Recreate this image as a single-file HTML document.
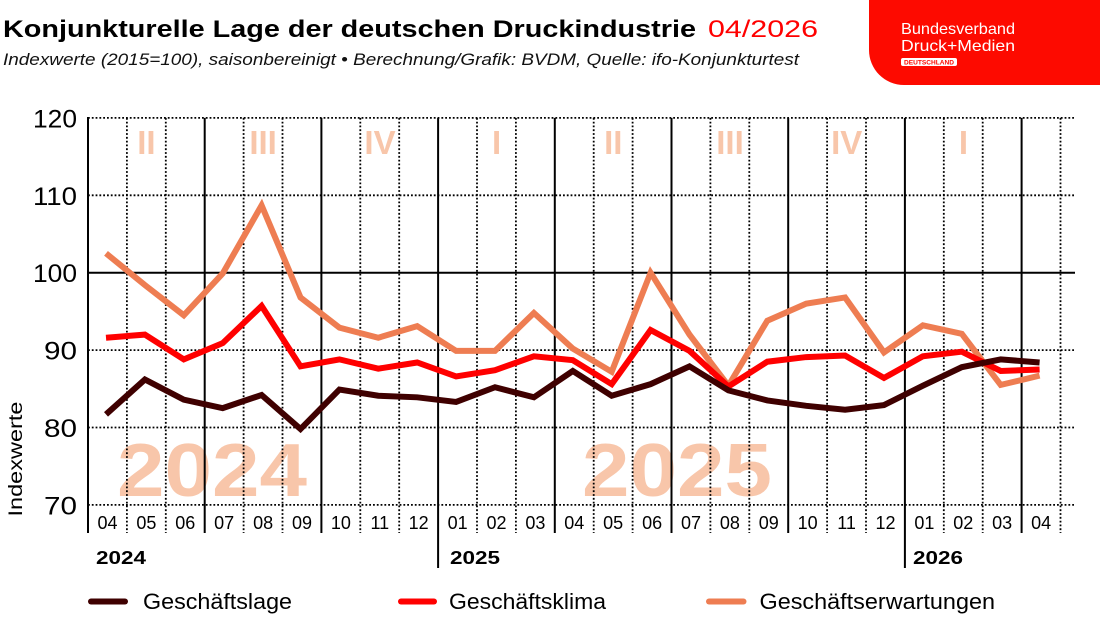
<!DOCTYPE html>
<html>
<head>
<meta charset="utf-8">
<style>
html,body{margin:0;padding:0;background:#fff;}
svg{display:block;}
text{font-family:"Liberation Sans",sans-serif;}
</style>
</head>
<body>
<svg width="1100" height="619" viewBox="0 0 1100 619" xmlns="http://www.w3.org/2000/svg">
  <rect x="0" y="0" width="1100" height="619" fill="#fff"/>

  <!-- Title -->
  <text x="3" y="37" font-size="24" font-weight="bold" fill="#000" textLength="693" lengthAdjust="spacingAndGlyphs">Konjunkturelle Lage der deutschen Druckindustrie</text>
  <text x="708" y="37" font-size="24" fill="#ff0000" textLength="110" lengthAdjust="spacingAndGlyphs">04/2026</text>
  <text x="3" y="65" font-size="17" font-style="italic" fill="#111" textLength="796" lengthAdjust="spacingAndGlyphs">Indexwerte (2015=100), saisonbereinigt • Berechnung/Grafik: BVDM, Quelle: ifo-Konjunkturtest</text>

  <!-- Logo -->
  <path d="M869 0 H1100 V85 H904 A35 35 0 0 1 869 50 Z" fill="#fd0a00"/>
  <text x="901" y="34" font-size="16" fill="#fff" textLength="114" lengthAdjust="spacingAndGlyphs">Bundesverband</text>
  <text x="901" y="51" font-size="16" fill="#fff" textLength="114" lengthAdjust="spacingAndGlyphs">Druck+Medien</text>
  <rect x="901" y="58" width="56" height="8" rx="2" fill="#fff"/>
  <text x="929" y="64.5" font-size="6.5" font-weight="bold" fill="#fd0a00" text-anchor="middle" textLength="50" lengthAdjust="spacingAndGlyphs">DEUTSCHLAND</text>

  <!-- Watermarks -->
  <g fill="#f8c6aa" font-weight="bold">
    <text x="212" y="496" font-size="75" text-anchor="middle" textLength="190" lengthAdjust="spacingAndGlyphs">2024</text>
    <text x="677" y="496" font-size="75" text-anchor="middle" textLength="190" lengthAdjust="spacingAndGlyphs">2025</text>
  </g>
  <g fill="#f8c6aa" font-weight="bold" font-size="33" text-anchor="middle">
    <text x="146.4" y="154">II</text>
    <text x="263.1" y="154">III</text>
    <text x="380" y="154">IV</text>
    <text x="496.6" y="154">I</text>
    <text x="613.3" y="154">II</text>
    <text x="730" y="154">III</text>
    <text x="846.7" y="154">IV</text>
    <text x="963.4" y="154">I</text>
  </g>

  <!-- Horizontal grid -->
  <g stroke="#000" stroke-width="1.8" stroke-dasharray="1.8,2">
    <line x1="88" y1="117.9" x2="1075" y2="117.9"/>
    <line x1="88" y1="195.3" x2="1075" y2="195.3"/>
    <line x1="88" y1="350.1" x2="1075" y2="350.1"/>
    <line x1="88" y1="427.5" x2="1075" y2="427.5"/>
    <line x1="88" y1="504.9" x2="1075" y2="504.9"/>
  </g>
  <line x1="88" y1="272.7" x2="1075" y2="272.7" stroke="#000" stroke-width="2"/>

  <!-- Vertical dotted (month) lines -->
  <g stroke="#000" stroke-width="1.8" stroke-dasharray="1.8,2">
    <line x1="126.9" y1="117.9" x2="126.9" y2="533"/>
    <line x1="165.8" y1="117.9" x2="165.8" y2="533"/>
    <line x1="243.6" y1="117.9" x2="243.6" y2="533"/>
    <line x1="282.5" y1="117.9" x2="282.5" y2="533"/>
    <line x1="360.3" y1="117.9" x2="360.3" y2="533"/>
    <line x1="399.2" y1="117.9" x2="399.2" y2="533"/>
    <line x1="477" y1="117.9" x2="477" y2="533"/>
    <line x1="515.9" y1="117.9" x2="515.9" y2="533"/>
    <line x1="593.7" y1="117.9" x2="593.7" y2="533"/>
    <line x1="632.6" y1="117.9" x2="632.6" y2="533"/>
    <line x1="710.4" y1="117.9" x2="710.4" y2="533"/>
    <line x1="749.3" y1="117.9" x2="749.3" y2="533"/>
    <line x1="827.1" y1="117.9" x2="827.1" y2="533"/>
    <line x1="866" y1="117.9" x2="866" y2="533"/>
    <line x1="943.8" y1="117.9" x2="943.8" y2="533"/>
    <line x1="982.7" y1="117.9" x2="982.7" y2="533"/>
    <line x1="1060.5" y1="117.9" x2="1060.5" y2="533"/>
  </g>
  <!-- Quarter solid lines -->
  <g stroke="#000" stroke-width="2">
    <line x1="88" y1="117" x2="88" y2="533"/>
    <line x1="204.7" y1="117.9" x2="204.7" y2="533"/>
    <line x1="321.4" y1="117.9" x2="321.4" y2="533"/>
    <line x1="438.1" y1="117.9" x2="438.1" y2="568"/>
    <line x1="554.8" y1="117.9" x2="554.8" y2="533"/>
    <line x1="671.5" y1="117.9" x2="671.5" y2="533"/>
    <line x1="788.2" y1="117.9" x2="788.2" y2="533"/>
    <line x1="904.9" y1="117.9" x2="904.9" y2="568"/>
    <line x1="1021.6" y1="117.9" x2="1021.6" y2="533"/>
  </g>

  <!-- Y tick labels -->
  <g font-size="25" fill="#000" text-anchor="end">
    <text x="77" y="127.4" textLength="44" lengthAdjust="spacingAndGlyphs">120</text>
    <text x="77" y="204.8" textLength="44" lengthAdjust="spacingAndGlyphs">110</text>
    <text x="77" y="282.2" textLength="44" lengthAdjust="spacingAndGlyphs">100</text>
    <text x="77" y="359.6" textLength="33" lengthAdjust="spacingAndGlyphs">90</text>
    <text x="77" y="437" textLength="33" lengthAdjust="spacingAndGlyphs">80</text>
    <text x="77" y="514.4" textLength="33" lengthAdjust="spacingAndGlyphs">70</text>
  </g>
  <text transform="translate(22,459) rotate(-90)" font-size="19" fill="#000" text-anchor="middle" textLength="115" lengthAdjust="spacingAndGlyphs">Indexwerte</text>

  <!-- Month labels -->
  <g font-size="18" fill="#000" text-anchor="middle">
    <text x="107.5" y="529">04</text>
    <text x="146.4" y="529">05</text>
    <text x="185.3" y="529">06</text>
    <text x="224.2" y="529">07</text>
    <text x="263.1" y="529">08</text>
    <text x="302" y="529">09</text>
    <text x="340.9" y="529">10</text>
    <text x="379.8" y="529">11</text>
    <text x="418.7" y="529">12</text>
    <text x="457.6" y="529">01</text>
    <text x="496.5" y="529">02</text>
    <text x="535.4" y="529">03</text>
    <text x="574.3" y="529">04</text>
    <text x="613.2" y="529">05</text>
    <text x="652.1" y="529">06</text>
    <text x="691" y="529">07</text>
    <text x="729.9" y="529">08</text>
    <text x="768.8" y="529">09</text>
    <text x="807.7" y="529">10</text>
    <text x="846.6" y="529">11</text>
    <text x="885.5" y="529">12</text>
    <text x="924.4" y="529">01</text>
    <text x="963.3" y="529">02</text>
    <text x="1002.2" y="529">03</text>
    <text x="1041.1" y="529">04</text>
  </g>

  <!-- Year labels -->
  <g font-size="18" font-weight="bold" fill="#000">
    <text x="96" y="564" textLength="50" lengthAdjust="spacingAndGlyphs">2024</text>
    <text x="450" y="564" textLength="50" lengthAdjust="spacingAndGlyphs">2025</text>
    <text x="913" y="564" textLength="50" lengthAdjust="spacingAndGlyphs">2026</text>
  </g>

  <!-- Series -->
  <g fill="none" stroke-width="6" stroke-linejoin="miter" stroke-miterlimit="3" stroke-linecap="butt">
    <polyline stroke="#ee7d52" points="106,253.35 144.9,285.08 183.8,315.27 222.7,273.47 261.6,205.36 300.5,297.47 339.4,327.65 378.3,337.72 417.2,326.11 456.1,350.87 495,350.87 533.9,312.95 572.8,348.55 611.7,371.77 650.6,272.7 689.5,334.62 728.4,385.7 767.3,320.69 806.2,303.66 845.1,297.47 884,352.42 922.9,325.33 961.8,333.85 1000.7,384.93 1039.6,375.64"/>
    <polyline stroke="#ff0000" points="106,337.72 144.9,334.62 183.8,359.39 222.7,343.13 261.6,305.98 300.5,366.35 339.4,359.39 378.3,368.68 417.2,362.48 456.1,376.42 495,370.22 533.9,356.29 572.8,360.16 611.7,384.16 650.6,329.98 689.5,350.87 728.4,386.48 767.3,361.71 806.2,357.07 845.1,355.52 884,377.96 922.9,356.29 961.8,351.65 1000.7,370.99 1039.6,369.45"/>
    <polyline stroke="#3f0000" points="106,414.34 144.9,379.51 183.8,399.64 222.7,408.15 261.6,394.99 300.5,429.05 339.4,389.57 378.3,395.77 417.2,397.31 456.1,401.96 495,387.25 533.9,397.31 572.8,371 611.7,395.77 650.6,384.16 689.5,366.35 728.4,390.35 767.3,400.41 806.2,405.83 845.1,409.7 884,405.05 922.9,385.7 961.8,367.13 1000.7,359.39 1039.6,362.48"/>
  </g>

  <!-- Legend -->
  <g stroke-width="6" stroke-linecap="round">
    <line x1="91" y1="601.5" x2="125" y2="601.5" stroke="#3f0000"/>
    <line x1="401" y1="601.5" x2="434" y2="601.5" stroke="#ff0000"/>
    <line x1="709" y1="601.5" x2="743.5" y2="601.5" stroke="#ee7d52"/>
  </g>
  <g font-size="22" fill="#000">
    <text x="143" y="609" textLength="149" lengthAdjust="spacingAndGlyphs">Geschäftslage</text>
    <text x="449" y="609" textLength="157" lengthAdjust="spacingAndGlyphs">Geschäftsklima</text>
    <text x="759.5" y="609" textLength="235.5" lengthAdjust="spacingAndGlyphs">Geschäftserwartungen</text>
  </g>
</svg>
</body>
</html>
